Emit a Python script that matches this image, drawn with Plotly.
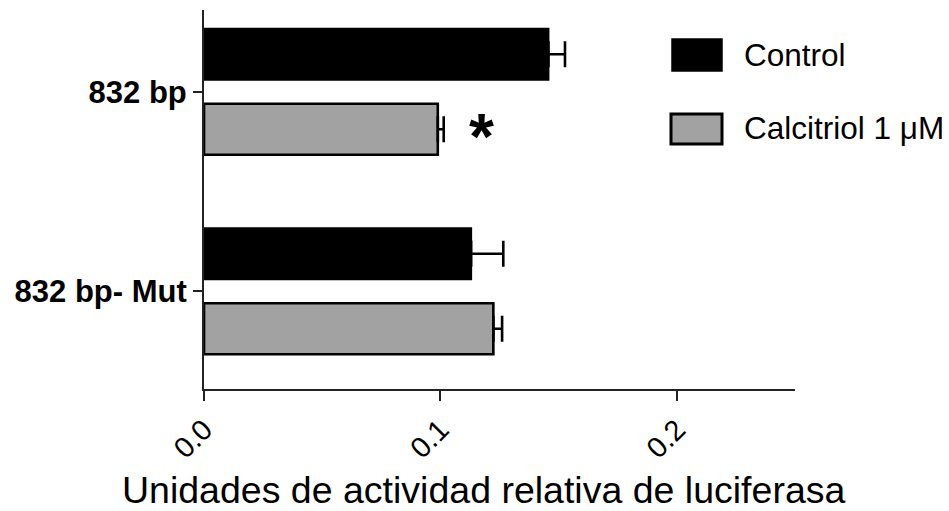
import plotly.graph_objects as go

# Promoter constructs and treatment groups
groups = ["832 bp", "832 bp- Mut"]
series_names = ["Control", "Calcitriol 1 μM"]

# Relative luciferase activity (mean) and SEM
control_vals = [0.1457, 0.1130]
control_err = [0.0070, 0.0136]
calcitriol_vals = [0.0989, 0.1224]
calcitriol_err = [0.0025, 0.0037]

x_tick_vals = [0.0, 0.1, 0.2]
x_tick_text = ["0.0", "0.1", "0.2"]
x_title = "Unidades de actividad relativa de luciferasa"
sig_mark = "*"

FONT = "Liberation Sans, Arial, Helvetica, sans-serif"
GREY = "#a2a2a2"

W, H = 949, 511
ML, MR, MT, MB = 204, 154, 10, 122
PW, PH = W - ML - MR, H - MT - MB


def px_x(px):
    return (px - ML) / PW


def px_y(py):
    return (H - MB - py) / PH


fig = go.Figure()

fig.add_trace(go.Bar(
    name=series_names[0], orientation="h", y=groups, x=control_vals,
    marker=dict(color="black", line=dict(color="black", width=2)),
    error_x=dict(type="data", array=control_err, arrayminus=[0] * len(groups),
                 symmetric=False, color="black", thickness=2.6, width=13),
    showlegend=False,
))
fig.add_trace(go.Bar(
    name=series_names[1], orientation="h", y=groups, x=calcitriol_vals,
    marker=dict(color=GREY, line=dict(color="black", width=2.6)),
    error_x=dict(type="data", array=calcitriol_err, arrayminus=[0] * len(groups),
                 symmetric=False, color="black", thickness=2.6, width=13),
    showlegend=False,
))

# Significance marker next to the treated 832 bp bar
fig.add_annotation(
    x=calcitriol_vals[0] + calcitriol_err[0] + 0.016, y=0.185,
    xref="x", yref="y", text=f"<b>{sig_mark}</b>", showarrow=False,
    font=dict(family=FONT, size=64, color="black"),
    xanchor="center", yanchor="middle", yshift=-8,
)

# Axis title
fig.add_annotation(
    x=px_x(483), y=px_y(490), xref="paper", yref="paper", text=x_title,
    showarrow=False, font=dict(family=FONT, size=37.5, color="black"),
    xanchor="center", yanchor="middle",
)

# Hand-drawn legend
legend_rows = [
    (series_names[0], "black", 1.5, (672, 722, 39, 71), 55),
    (series_names[1], GREY, 3, (671, 722, 114, 144), 128),
]
for name, fill, lw, (x0, x1, y0, y1), ty in legend_rows:
    fig.add_shape(type="rect", xref="paper", yref="paper",
                  x0=px_x(x0), x1=px_x(x1), y0=px_y(y1), y1=px_y(y0),
                  fillcolor=fill, line=dict(color="black", width=lw))
    fig.add_annotation(x=px_x(742), y=px_y(ty), xref="paper", yref="paper",
                       text=name, showarrow=False, xanchor="left", yanchor="middle",
                       font=dict(family=FONT, size=31.5, color="black"))

fig.update_layout(
    width=W, height=H,
    margin=dict(l=ML, r=MR, t=MT, b=MB),
    paper_bgcolor="white", plot_bgcolor="white",
    barmode="group", bargap=0.248, bargroupgap=0.32,
    xaxis=dict(
        range=[0, 0.25], tickvals=x_tick_vals, ticktext=x_tick_text,
        tickangle=-45, ticks="outside", ticklen=10, tickwidth=1.6, tickcolor="#222",
        showline=True, linecolor="#222", linewidth=2,
        showgrid=False, zeroline=False,
        tickfont=dict(family=FONT, size=29, color="black"),
    ),
    yaxis=dict(
        type="category", categoryorder="array", categoryarray=groups,
        range=[1.49, -0.41],
        ticks="outside", ticklen=9, tickwidth=1.6, tickcolor="#222",
        showline=True, linecolor="#222", linewidth=2,
        showgrid=False, zeroline=False,
        tickfont=dict(family=FONT, size=31, color="black", weight="bold"),
    ),
)

fig.write_html("out.html")
